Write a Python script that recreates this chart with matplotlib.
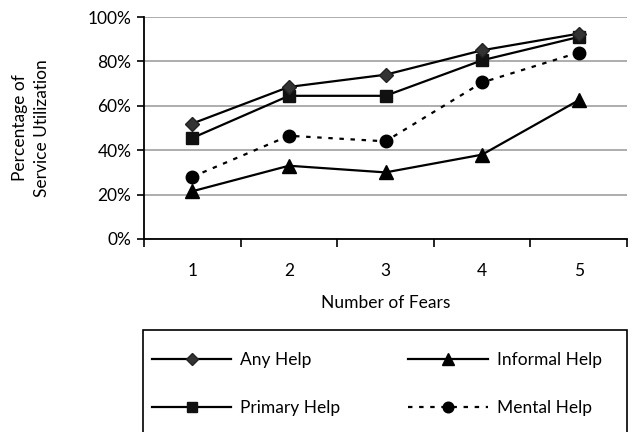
import matplotlib.pyplot as plt
from matplotlib.patches import Rectangle

plt.rcParams['font.family'] = ['Lato', 'DejaVu Sans']

fears = [1, 2, 3, 4, 5]
any_help = [52, 68.5, 74, 85, 92.5]
primary_help = [45.5, 64.5, 64.5, 80.5, 91]
informal_help = [21.5, 33, 30, 38, 62.5]
mental_help = [28, 46.5, 44, 70.5, 84]
yticks = [0, 20, 40, 60, 80, 100]

fs = 12.5

fig = plt.figure(figsize=(6.37, 4.32), dpi=100)
ax = fig.add_axes([144 / 637, 1 - 239 / 432, (627 - 144) / 637, (239 - 17) / 432])

lw = 1.6
ax.plot(fears, any_help, color='black', lw=lw, marker='D', ms=7.5,
        mfc='#333333', mec='#222222', label='Any Help', zorder=4)
ax.plot(fears, informal_help, color='black', lw=lw, marker='^', ms=9.5,
        mfc='black', mec='black', label='Informal Help', zorder=3)
ax.plot(fears, primary_help, color='black', lw=lw, marker='s', ms=8.5,
        mfc='#111111', mec='#111111', label='Primary Help', zorder=3)
ax.plot(fears, mental_help, color='black', lw=lw, ls=(0, (2, 3)), marker='o', ms=9,
        mfc='black', mec='black', label='Mental Help', zorder=3)

ax.set_xlim(0.5, 5.5)
ax.set_ylim(0, 100)
ax.set_yticks(yticks)
ax.set_yticklabels([f'{v}%' for v in yticks])
ax.set_xticks(fears)
ax.set_xticks([0.5, 1.5, 2.5, 3.5, 4.5, 5.5], minor=True)
ax.tick_params(axis='x', which='major', length=0, pad=17, labelsize=fs)
ax.tick_params(axis='x', which='minor', length=6, width=1.2, direction='out')
ax.tick_params(axis='y', length=5, width=1.2, labelsize=fs, pad=4)
ax.yaxis.grid(True, color='#a0a0a0', lw=1.2)
ax.set_axisbelow(True)
for s in ['top', 'right']:
    ax.spines[s].set_visible(False)
for s in ['left', 'bottom']:
    ax.spines[s].set_linewidth(1.3)

ax.set_xlabel('Number of Fears', fontsize=fs, labelpad=12)
ax.set_ylabel('Percentage of\nService Utilization', fontsize=fs, labelpad=27,
              linespacing=1.5)

# legend box, bottom runs off the figure
fig.add_artist(Rectangle((143 / 637, -0.1), (627 - 143) / 637, 0.1 + (432 - 330) / 432,
                         transform=fig.transFigure, fill=False, ec='black', lw=1.2))
handles, labels = ax.get_legend_handles_labels()
order = [0, 2, 1, 3]
fig.legend([handles[i] for i in order], [labels[i] for i in order],
           ncol=2, frameon=False, loc='upper left',
           bbox_to_anchor=(136 / 637, 1 - 336 / 432), fontsize=fs,
           handlelength=4.6, columnspacing=3.9, labelspacing=1.85,
           handletextpad=0.5, markerscale=0.85)

fig.savefig('out.png', dpi=100)
